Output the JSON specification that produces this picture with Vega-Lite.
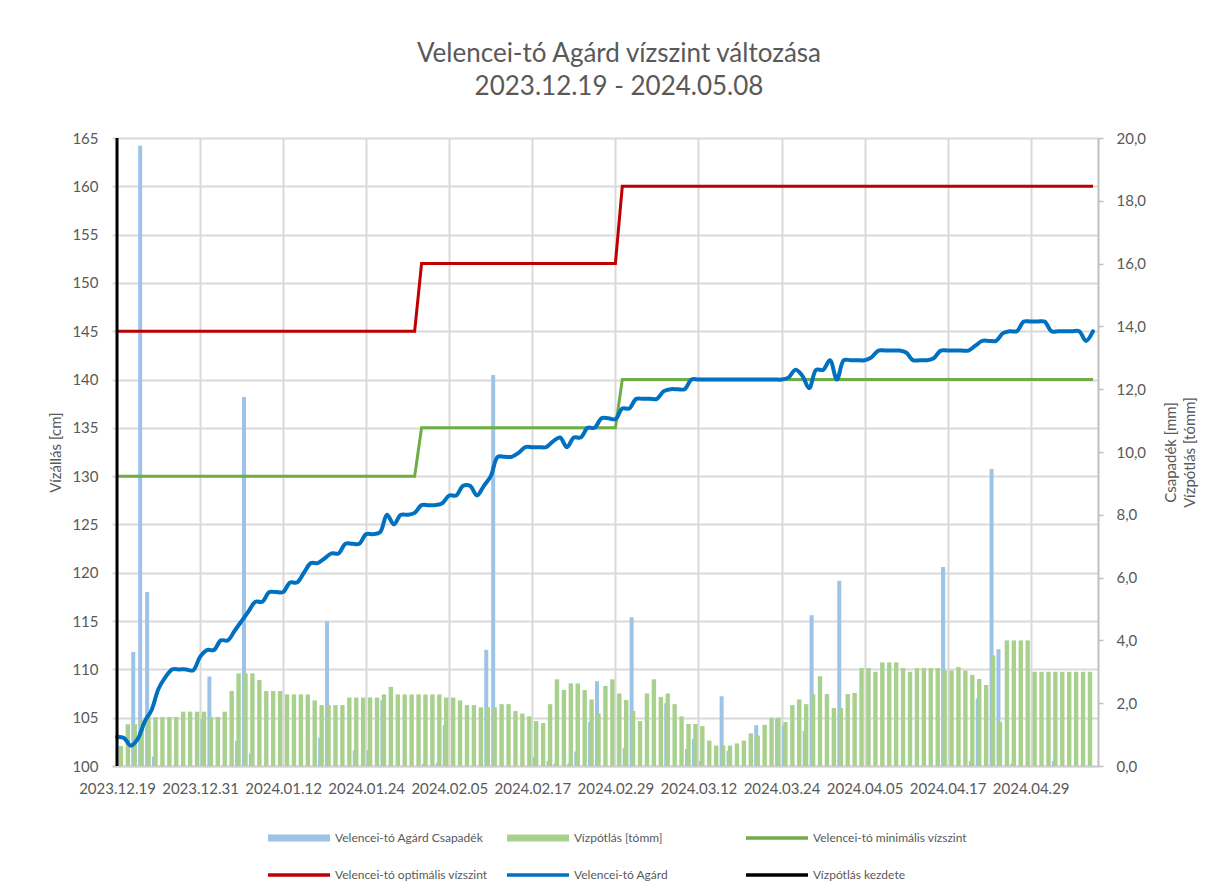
{
  "$schema": "https://vega.github.io/schema/vega-lite/v6.json",
  "width": 986,
  "height": 628,
  "autosize": {"type": "none"},
  "padding": {"left": 112, "top": 138, "right": 122, "bottom": 124},
  "background": "white",
  "config": {"view": {"stroke": null}, "font": "Lato"},
  "title": {
    "text": ["Velencei-tó Agárd vízszint változása", "2023.12.19 - 2024.05.08"],
    "font": "Lato", "fontSize": 26, "fontWeight": "normal", "color": "#595959",
    "anchor": "middle", "dx": 14, "offset": 31, "lineHeight": 33
  },
  "datasets": {
    "kezdete": [{"datum": "2023/12/19", "also": 100, "felso": 165}],
    "napi": [
      {"datum": "2023/12/19", "szint": 103, "vp": 0.64, "min": 130, "opt": 145},
      {"datum": "2023/12/20", "szint": 102.9, "vp": 1.33, "min": 130, "opt": 145},
      {"datum": "2023/12/21", "szint": 102.1, "csap": 3.63, "vp": 1.33, "min": 130, "opt": 145},
      {"datum": "2023/12/22", "szint": 102.8, "csap": 19.75, "vp": 1.45, "min": 130, "opt": 145},
      {"datum": "2023/12/23", "szint": 104.6, "csap": 5.54, "vp": 1.56, "min": 130, "opt": 145},
      {"datum": "2023/12/24", "szint": 105.8, "csap": 0.3, "vp": 1.56, "min": 130, "opt": 145},
      {"datum": "2023/12/25", "szint": 108, "vp": 1.56, "min": 130, "opt": 145},
      {"datum": "2023/12/26", "szint": 109.2, "vp": 1.56, "min": 130, "opt": 145},
      {"datum": "2023/12/27", "szint": 110, "vp": 1.56, "min": 130, "opt": 145},
      {"datum": "2023/12/28", "szint": 110, "vp": 1.73, "min": 130, "opt": 145},
      {"datum": "2023/12/29", "szint": 110, "vp": 1.73, "min": 130, "opt": 145},
      {"datum": "2023/12/30", "szint": 109.9, "vp": 1.73, "min": 130, "opt": 145},
      {"datum": "2023/12/31", "szint": 111.3, "csap": 1.5, "vp": 1.73, "min": 130, "opt": 145},
      {"datum": "2024/01/01", "szint": 112, "csap": 2.85, "vp": 1.56, "min": 130, "opt": 145},
      {"datum": "2024/01/02", "szint": 112, "vp": 1.56, "min": 130, "opt": 145},
      {"datum": "2024/01/03", "szint": 113, "vp": 1.73, "min": 130, "opt": 145},
      {"datum": "2024/01/04", "szint": 113, "vp": 2.39, "min": 130, "opt": 145},
      {"datum": "2024/01/05", "szint": 114, "csap": 0.8, "vp": 2.95, "min": 130, "opt": 145},
      {"datum": "2024/01/06", "szint": 115, "csap": 11.75, "vp": 2.95, "min": 130, "opt": 145},
      {"datum": "2024/01/07", "szint": 116, "csap": 0.4, "vp": 2.95, "min": 130, "opt": 145},
      {"datum": "2024/01/08", "szint": 117, "vp": 2.74, "min": 130, "opt": 145},
      {"datum": "2024/01/09", "szint": 117, "vp": 2.39, "min": 130, "opt": 145},
      {"datum": "2024/01/10", "szint": 118, "vp": 2.39, "min": 130, "opt": 145},
      {"datum": "2024/01/11", "szint": 118, "vp": 2.39, "min": 130, "opt": 145},
      {"datum": "2024/01/12", "szint": 118, "vp": 2.28, "min": 130, "opt": 145},
      {"datum": "2024/01/13", "szint": 119, "vp": 2.28, "min": 130, "opt": 145},
      {"datum": "2024/01/14", "szint": 119, "vp": 2.28, "min": 130, "opt": 145},
      {"datum": "2024/01/15", "szint": 120, "vp": 2.28, "min": 130, "opt": 145},
      {"datum": "2024/01/16", "szint": 121, "vp": 2.09, "min": 130, "opt": 145},
      {"datum": "2024/01/17", "szint": 121, "csap": 0.9, "vp": 1.94, "min": 130, "opt": 145},
      {"datum": "2024/01/18", "szint": 121.5, "csap": 4.6, "vp": 1.94, "min": 130, "opt": 145},
      {"datum": "2024/01/19", "szint": 122, "vp": 1.94, "min": 130, "opt": 145},
      {"datum": "2024/01/20", "szint": 122, "vp": 1.94, "min": 130, "opt": 145},
      {"datum": "2024/01/21", "szint": 123, "vp": 2.18, "min": 130, "opt": 145},
      {"datum": "2024/01/22", "szint": 123, "csap": 0.5, "vp": 2.18, "min": 130, "opt": 145},
      {"datum": "2024/01/23", "szint": 123, "vp": 2.18, "min": 130, "opt": 145},
      {"datum": "2024/01/24", "szint": 124, "csap": 0.5, "vp": 2.18, "min": 130, "opt": 145},
      {"datum": "2024/01/25", "szint": 124, "vp": 2.18, "min": 130, "opt": 145},
      {"datum": "2024/01/26", "szint": 124.2, "csap": 2.1, "vp": 2.28, "min": 130, "opt": 145},
      {"datum": "2024/01/27", "szint": 126, "vp": 2.52, "min": 130, "opt": 145},
      {"datum": "2024/01/28", "szint": 125, "vp": 2.28, "min": 130, "opt": 145},
      {"datum": "2024/01/29", "szint": 126, "vp": 2.28, "min": 130, "opt": 145},
      {"datum": "2024/01/30", "szint": 126, "vp": 2.28, "min": 130, "opt": 145},
      {"datum": "2024/01/31", "szint": 126.2, "vp": 2.28, "min": 130, "opt": 145},
      {"datum": "2024/02/01", "szint": 127, "csap": 0.07, "vp": 2.28, "min": 135, "opt": 152},
      {"datum": "2024/02/02", "szint": 127, "vp": 2.28, "min": 135, "opt": 152},
      {"datum": "2024/02/03", "szint": 127, "csap": 0.1, "vp": 2.28, "min": 135, "opt": 152},
      {"datum": "2024/02/04", "szint": 127.2, "csap": 1.3, "vp": 2.18, "min": 135, "opt": 152},
      {"datum": "2024/02/05", "szint": 128, "vp": 2.18, "min": 135, "opt": 152},
      {"datum": "2024/02/06", "szint": 128, "vp": 2.09, "min": 135, "opt": 152},
      {"datum": "2024/02/07", "szint": 129, "vp": 1.94, "min": 135, "opt": 152},
      {"datum": "2024/02/08", "szint": 129, "vp": 1.94, "min": 135, "opt": 152},
      {"datum": "2024/02/09", "szint": 128, "vp": 1.87, "min": 135, "opt": 152},
      {"datum": "2024/02/10", "szint": 129, "csap": 3.7, "vp": 1.87, "min": 135, "opt": 152},
      {"datum": "2024/02/11", "szint": 130, "csap": 12.45, "vp": 1.87, "min": 135, "opt": 152},
      {"datum": "2024/02/12", "szint": 132, "vp": 1.97, "min": 135, "opt": 152},
      {"datum": "2024/02/13", "szint": 132, "vp": 1.97, "min": 135, "opt": 152},
      {"datum": "2024/02/14", "szint": 132, "vp": 1.75, "min": 135, "opt": 152},
      {"datum": "2024/02/15", "szint": 132.4, "vp": 1.67, "min": 135, "opt": 152},
      {"datum": "2024/02/16", "szint": 133, "vp": 1.58, "min": 135, "opt": 152},
      {"datum": "2024/02/17", "szint": 133, "csap": 0.29, "vp": 1.43, "min": 135, "opt": 152},
      {"datum": "2024/02/18", "szint": 133, "vp": 1.37, "min": 135, "opt": 152},
      {"datum": "2024/02/19", "szint": 133, "csap": 0.16, "vp": 1.97, "min": 135, "opt": 152},
      {"datum": "2024/02/20", "szint": 133.6, "csap": 0.08, "vp": 2.76, "min": 135, "opt": 152},
      {"datum": "2024/02/21", "szint": 134, "vp": 2.42, "min": 135, "opt": 152},
      {"datum": "2024/02/22", "szint": 133, "csap": 0.08, "vp": 2.63, "min": 135, "opt": 152},
      {"datum": "2024/02/23", "szint": 134, "csap": 0.46, "vp": 2.63, "min": 135, "opt": 152},
      {"datum": "2024/02/24", "szint": 134, "vp": 2.42, "min": 135, "opt": 152},
      {"datum": "2024/02/25", "szint": 135, "csap": 1.4, "vp": 2.12, "min": 135, "opt": 152},
      {"datum": "2024/02/26", "szint": 135, "csap": 2.7, "vp": 1.67, "min": 135, "opt": 152},
      {"datum": "2024/02/27", "szint": 136, "vp": 2.55, "min": 135, "opt": 152},
      {"datum": "2024/02/28", "szint": 136, "vp": 2.76, "min": 135, "opt": 152},
      {"datum": "2024/02/29", "szint": 135.9, "vp": 2.31, "min": 135, "opt": 152},
      {"datum": "2024/03/01", "szint": 137, "csap": 0.57, "vp": 2.1, "min": 140, "opt": 160},
      {"datum": "2024/03/02", "szint": 137, "csap": 4.74, "vp": 1.75, "min": 140, "opt": 160},
      {"datum": "2024/03/03", "szint": 138, "vp": 1.43, "min": 140, "opt": 160},
      {"datum": "2024/03/04", "szint": 138, "vp": 2.31, "min": 140, "opt": 160},
      {"datum": "2024/03/05", "szint": 138, "vp": 2.76, "min": 140, "opt": 160},
      {"datum": "2024/03/06", "szint": 138, "vp": 2.2, "min": 140, "opt": 160},
      {"datum": "2024/03/07", "szint": 138.8, "csap": 2.0, "vp": 2.31, "min": 140, "opt": 160},
      {"datum": "2024/03/08", "szint": 139, "vp": 1.97, "min": 140, "opt": 160},
      {"datum": "2024/03/09", "szint": 139, "vp": 1.58, "min": 140, "opt": 160},
      {"datum": "2024/03/10", "szint": 139, "csap": 0.54, "vp": 1.34, "min": 140, "opt": 160},
      {"datum": "2024/03/11", "szint": 140, "csap": 0.86, "vp": 1.34, "min": 140, "opt": 160},
      {"datum": "2024/03/12", "szint": 140, "csap": 0.16, "vp": 1.27, "min": 140, "opt": 160},
      {"datum": "2024/03/13", "szint": 140, "vp": 0.81, "min": 140, "opt": 160},
      {"datum": "2024/03/14", "szint": 140, "vp": 0.65, "min": 140, "opt": 160},
      {"datum": "2024/03/15", "szint": 140, "csap": 2.22, "vp": 0.65, "min": 140, "opt": 160},
      {"datum": "2024/03/16", "szint": 140, "csap": 0.48, "vp": 0.65, "min": 140, "opt": 160},
      {"datum": "2024/03/17", "szint": 140, "vp": 0.72, "min": 140, "opt": 160},
      {"datum": "2024/03/18", "szint": 140, "vp": 0.81, "min": 140, "opt": 160},
      {"datum": "2024/03/19", "szint": 140, "vp": 1.04, "min": 140, "opt": 160},
      {"datum": "2024/03/20", "szint": 140, "csap": 1.3, "vp": 0.97, "min": 140, "opt": 160},
      {"datum": "2024/03/21", "szint": 140, "vp": 1.31, "min": 140, "opt": 160},
      {"datum": "2024/03/22", "szint": 140, "vp": 1.54, "min": 140, "opt": 160},
      {"datum": "2024/03/23", "szint": 140, "csap": 1.5, "vp": 1.54, "min": 140, "opt": 160},
      {"datum": "2024/03/24", "szint": 140, "csap": 1.29, "vp": 1.4, "min": 140, "opt": 160},
      {"datum": "2024/03/25", "szint": 140.2, "vp": 1.94, "min": 140, "opt": 160},
      {"datum": "2024/03/26", "szint": 141, "vp": 2.12, "min": 140, "opt": 160},
      {"datum": "2024/03/27", "szint": 140.4, "csap": 1.12, "vp": 1.97, "min": 140, "opt": 160},
      {"datum": "2024/03/28", "szint": 139.1, "csap": 4.8, "vp": 2.28, "min": 140, "opt": 160},
      {"datum": "2024/03/29", "szint": 141, "vp": 2.86, "min": 140, "opt": 160},
      {"datum": "2024/03/30", "szint": 141, "vp": 2.29, "min": 140, "opt": 160},
      {"datum": "2024/03/31", "szint": 142, "vp": 1.85, "min": 140, "opt": 160},
      {"datum": "2024/04/01", "szint": 140, "csap": 5.9, "vp": 1.85, "min": 140, "opt": 160},
      {"datum": "2024/04/02", "szint": 142, "vp": 2.29, "min": 140, "opt": 160},
      {"datum": "2024/04/03", "szint": 142, "vp": 2.33, "min": 140, "opt": 160},
      {"datum": "2024/04/04", "szint": 142, "vp": 3.12, "min": 140, "opt": 160},
      {"datum": "2024/04/05", "szint": 142, "vp": 3.12, "min": 140, "opt": 160},
      {"datum": "2024/04/06", "szint": 142.3, "vp": 3.0, "min": 140, "opt": 160},
      {"datum": "2024/04/07", "szint": 143, "vp": 3.3, "min": 140, "opt": 160},
      {"datum": "2024/04/08", "szint": 143, "vp": 3.3, "min": 140, "opt": 160},
      {"datum": "2024/04/09", "szint": 143, "vp": 3.3, "min": 140, "opt": 160},
      {"datum": "2024/04/10", "szint": 143, "vp": 3.12, "min": 140, "opt": 160},
      {"datum": "2024/04/11", "szint": 142.8, "vp": 3.0, "min": 140, "opt": 160},
      {"datum": "2024/04/12", "szint": 142, "vp": 3.12, "min": 140, "opt": 160},
      {"datum": "2024/04/13", "szint": 142, "vp": 3.12, "min": 140, "opt": 160},
      {"datum": "2024/04/14", "szint": 142, "vp": 3.12, "min": 140, "opt": 160},
      {"datum": "2024/04/15", "szint": 142.2, "vp": 3.12, "min": 140, "opt": 160},
      {"datum": "2024/04/16", "szint": 143, "csap": 6.34, "vp": 3.04, "min": 140, "opt": 160},
      {"datum": "2024/04/17", "szint": 143, "vp": 3.04, "min": 140, "opt": 160},
      {"datum": "2024/04/18", "szint": 143, "vp": 3.15, "min": 140, "opt": 160},
      {"datum": "2024/04/19", "szint": 143, "vp": 3.04, "min": 140, "opt": 160},
      {"datum": "2024/04/20", "szint": 143, "csap": 0.16, "vp": 2.9, "min": 140, "opt": 160},
      {"datum": "2024/04/21", "szint": 143.5, "csap": 2.15, "vp": 2.77, "min": 140, "opt": 160},
      {"datum": "2024/04/22", "szint": 144, "vp": 2.58, "min": 140, "opt": 160},
      {"datum": "2024/04/23", "szint": 144, "csap": 9.46, "vp": 3.52, "min": 140, "opt": 160},
      {"datum": "2024/04/24", "szint": 144, "csap": 3.72, "vp": 1.4, "min": 140, "opt": 160},
      {"datum": "2024/04/25", "szint": 144.8, "vp": 4.0, "min": 140, "opt": 160},
      {"datum": "2024/04/26", "szint": 145, "csap": 0.08, "vp": 4.0, "min": 140, "opt": 160},
      {"datum": "2024/04/27", "szint": 145, "vp": 4.0, "min": 140, "opt": 160},
      {"datum": "2024/04/28", "szint": 146, "vp": 4.0, "min": 140, "opt": 160},
      {"datum": "2024/04/29", "szint": 146, "vp": 3.0, "min": 140, "opt": 160},
      {"datum": "2024/04/30", "szint": 146, "vp": 3.0, "min": 140, "opt": 160},
      {"datum": "2024/05/01", "szint": 146, "vp": 3.0, "min": 140, "opt": 160},
      {"datum": "2024/05/02", "szint": 145, "csap": 0.16, "vp": 3.0, "min": 140, "opt": 160},
      {"datum": "2024/05/03", "szint": 145, "vp": 3.0, "min": 140, "opt": 160},
      {"datum": "2024/05/04", "szint": 145, "vp": 3.0, "min": 140, "opt": 160},
      {"datum": "2024/05/05", "szint": 145, "vp": 3.0, "min": 140, "opt": 160},
      {"datum": "2024/05/06", "szint": 145, "vp": 3.0, "min": 140, "opt": 160},
      {"datum": "2024/05/07", "szint": 144, "vp": 3.0, "min": 140, "opt": 160},
      {"datum": "2024/05/08", "szint": 145, "min": 140, "opt": 160}
    ]
  },
  "data": {"name": "napi"},
  "encoding": {
    "x": {
      "field": "datum", "type": "temporal",
      "scale": {"domain": [{"year": 2023, "month": 12, "date": 19}, {"year": 2024, "month": 5, "date": 8}]},
      "axis": {
        "values": [
          {"year": 2023, "month": 12, "date": 19}, {"year": 2023, "month": 12, "date": 31},
          {"year": 2024, "month": 1, "date": 12}, {"year": 2024, "month": 1, "date": 24},
          {"year": 2024, "month": 2, "date": 5}, {"year": 2024, "month": 2, "date": 17},
          {"year": 2024, "month": 2, "date": 29}, {"year": 2024, "month": 3, "date": 12},
          {"year": 2024, "month": 3, "date": 24}, {"year": 2024, "month": 4, "date": 5},
          {"year": 2024, "month": 4, "date": 17}, {"year": 2024, "month": 4, "date": 29}
        ],
        "format": "%Y.%m.%d", "labelFlush": false, "labelOverlap": false,
        "grid": true, "gridColor": "#D9D9D9", "gridWidth": 2,
        "domainColor": "#D0D0D0", "domainWidth": 2, "ticks": false,
        "labelPadding": 15, "labelFont": "Lato", "labelFontSize": 15, "labelColor": "#595959",
        "title": null
      }
    }
  },
  "layer": [
    {
      "layer": [
        {
          "mark": {"type": "bar", "width": 4, "xOffset": 2.4},
          "encoding": {
            "y": {"field": "csap", "type": "quantitative", "scale": {"domain": [0, 20], "nice": false},
              "axis": {"orient": "right", "values": [0, 2, 4, 6, 8, 10, 12, 14, 16, 18, 20],
                "labelExpr": "replace(format(datum.value, '.1f'), '.', ',')", "grid": false,
                "domainColor": "#BFBFBF", "domainWidth": 2, "tickColor": "#BFBFBF", "tickSize": 5, "tickWidth": 1.5,
                "labelPadding": 13, "labelFont": "Lato", "labelFontSize": 15, "labelColor": "#595959",
                "title": ["Csapadék [mm]", "Vízpótlás [tómm]"], "titleAngle": 270, "titleFont": "Lato",
                "titleFontSize": 15, "titleFontWeight": "normal", "titleColor": "#595959", "titlePadding": 14, "titleLineHeight": 19}},
            "color": {"datum": "Velencei-tó Agárd Csapadék",
              "scale": {"domain": ["Velencei-tó Agárd Csapadék", "Vízpótlás [tómm]", "Velencei-tó minimális vízszint", "Velencei-tó optimális vízszint", "Velencei-tó Agárd", "Vízpótlás kezdete"],
                "range": ["#9DC3E6", "#A9D18E", "#70AD47", "#C00000", "#0070C0", "#000000"]},
              "legend": {"title": null, "orient": "none", "legendX": 156, "legendY": 669, "direction": "horizontal",
                "columns": 3, "gridAlign": "all", "columnPadding": 18, "rowPadding": -30, "padding": 0,
                "symbolSize": 3844, "symbolType": "M-1,-0.06H1V0.06H-1Z", "labelFont": "Lato", "labelFontSize": 12,
                "labelColor": "#595959", "labelOffset": 5, "labelLimit": 300,
                "encode": {"symbols": {"update": {
                  "shape": {"signal": "indexof(['Velencei-tó Agárd Csapadék','Vízpótlás [tómm]'], datum.value) >= 0 ? 'M-1,-0.11H1V0.11H-1Z' : 'M-1,-0.06H1V0.06H-1Z'"},
                  "fill": {"signal": "scale('color', datum.value)"},
                  "stroke": {"value": "transparent"}, "strokeWidth": {"value": 0}, "opacity": {"value": 1}}}}}}
          }
        },
        {
          "mark": {"type": "bar", "width": 4.4, "xOffset": 3.9},
          "encoding": {
            "y": {"field": "vp", "type": "quantitative", "scale": {"domain": [0, 20], "nice": false},
              "axis": {"orient": "right", "values": [0, 2, 4, 6, 8, 10, 12, 14, 16, 18, 20],
                "labelExpr": "replace(format(datum.value, '.1f'), '.', ',')", "grid": false,
                "domainColor": "#BFBFBF", "domainWidth": 2, "tickColor": "#BFBFBF", "tickSize": 5, "tickWidth": 1.5,
                "labelPadding": 13, "labelFont": "Lato", "labelFontSize": 15, "labelColor": "#595959",
                "title": ["Csapadék [mm]", "Vízpótlás [tómm]"], "titleAngle": 270, "titleFont": "Lato",
                "titleFontSize": 15, "titleFontWeight": "normal", "titleColor": "#595959", "titlePadding": 14, "titleLineHeight": 19}},
            "color": {"datum": "Vízpótlás [tómm]"}
          }
        }
      ]
    },
    {
      "layer": [
        {
          "mark": {"type": "line", "strokeWidth": 3},
          "encoding": {
            "y": {"field": "min", "type": "quantitative", "scale": {"domain": [100, 165], "nice": false, "zero": false},
              "axis": {"orient": "left", "values": [100, 105, 110, 115, 120, 125, 130, 135, 140, 145, 150, 155, 160, 165],
                "grid": true, "gridColor": "#D9D9D9", "gridWidth": 2, "domain": false, "ticks": false,
                "labelPadding": 14, "labelFont": "Lato", "labelFontSize": 15, "labelColor": "#595959",
                "title": "Vízállás [cm]", "titleAngle": 270, "titleFont": "Lato", "titleFontSize": 15,
                "titleFontWeight": "normal", "titleColor": "#595959", "titlePadding": 8}},
            "color": {"datum": "Velencei-tó minimális vízszint"}
          }
        },
        {
          "mark": {"type": "line", "strokeWidth": 3},
          "encoding": {
            "y": {"field": "opt", "type": "quantitative"},
            "color": {"datum": "Velencei-tó optimális vízszint"}
          }
        },
        {
          "mark": {"type": "line", "strokeWidth": 4, "interpolate": "catmull-rom", "strokeCap": "round", "strokeJoin": "round"},
          "encoding": {
            "y": {"field": "szint", "type": "quantitative"},
            "color": {"datum": "Velencei-tó Agárd"}
          }
        },
        {
          "data": {"name": "kezdete"},
          "mark": {"type": "rule", "strokeWidth": 3},
          "encoding": {
            "y": {"field": "also", "type": "quantitative"},
            "y2": {"field": "felso"},
            "color": {"datum": "Vízpótlás kezdete"}
          }
        }
      ]
    }
  ],
  "resolve": {"scale": {"y": "independent"}}
}
